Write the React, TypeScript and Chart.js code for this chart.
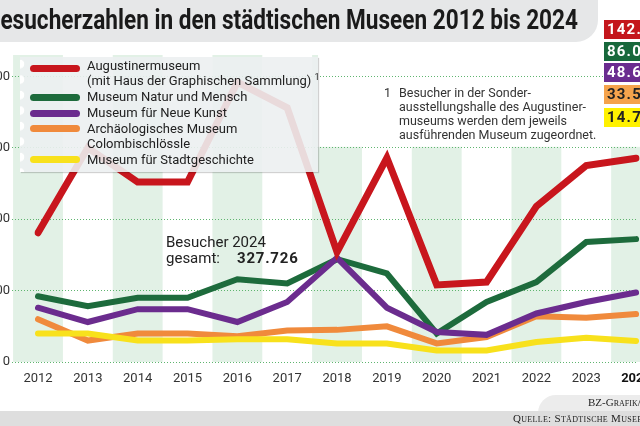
import React, { useEffect, useLayoutEffect, useRef } from "react";
import { Chart, registerables } from "chart.js";

Chart.register(...registerables);

const years = ["2012", "2013", "2014", "2015", "2016", "2017", "2018", "2019", "2020", "2021", "2022", "2023", "2024"];
const augustiner = [90500, 150000, 126000, 126000, 196000, 178000, 77000, 143000, 54000, 56000, 109000, 137500, 142750];
const naturMensch = [46000, 39000, 45000, 45000, 58000, 55000, 72000, 62000, 20000, 42000, 56000, 84000, 86050];
const neueKunst = [38000, 28000, 37000, 37000, 28000, 42000, 73000, 38000, 21000, 19000, 34000, 42000, 48650];
const archaeologie = [30000, 15000, 20000, 20000, 18000, 22000, 22500, 25000, 13000, 17500, 32000, 31000, 33550];
const stadtgeschichte = [20000, 20000, 15000, 15000, 16000, 16000, 13000, 13000, 8000, 8000, 14000, 17000, 14750];
const yTicks = [0, 50000, 100000, 150000, 200000];
const seriesNames = [
  ["Augustinermuseum", "(mit Haus der Graphischen Sammlung)"],
  ["Museum Natur und Mensch"],
  ["Museum für Neue Kunst"],
  ["Archäologisches Museum", "Colombischlössle"],
  ["Museum für Stadtgeschichte"],
];
const totalLabel = "327.726";
const footnoteLines = [
  "Besucher in der Sonder-",
  "ausstellungshalle des Augustiner-",
  "museums werden dem jeweils",
  "ausführenden Museum zugeordnet.",
];

const lineColors = ["#c8161d", "#1d6b3c", "#6b2c8e", "#f08a3c", "#f8e11c"];
const boxColors = ["#c4161c", "#17683b", "#6a2c8f", "#f5a34c", "#fff100"];
const boxText = ["#ffffff", "#ffffff", "#ffffff", "#222222", "#222222"];
const seriesData = [augustiner, naturMensch, neueKunst, archaeologie, stadtgeschichte];

const fmt = (v: number) => String(Math.round(v)).replace(/\B(?=(\d{3})+(?!\d))/g, ".");

const CANVAS_LEFT = -60;

const stripesPlugin = {
  id: "stripes",
  beforeDraw(chart: any) {
    const { ctx, chartArea, scales } = chart;
    const x = scales.x;
    const y = scales.y;
    const step = x.getPixelForValue(1) - x.getPixelForValue(0);
    ctx.save();
    ctx.fillStyle = "#e2f1e6";
    years.forEach((_, i) => {
      if (i % 2 === 0) {
        const cx = x.getPixelForValue(i);
        ctx.fillRect(cx - step / 2, chartArea.top, step, chartArea.bottom - chartArea.top);
      }
    });
    // white panel behind the footnote
    const yb = y.getPixelForValue(150000) - 1;
    ctx.fillStyle = "#ffffff";
    ctx.fillRect(318 - CANVAS_LEFT, chartArea.top, chart.width, yb - chartArea.top);
    ctx.restore();
  },
};

export default function App() {
  const canvasRef = useRef<HTMLCanvasElement | null>(null);
  const titleRef = useRef<HTMLSpanElement | null>(null);

  useLayoutEffect(() => {
    const el = titleRef.current;
    if (el) {
      el.style.transform = "none";
      const w = el.getBoundingClientRect().width;
      el.style.transform = `scaleX(${592 / w})`;
    }
  }, []);

  useEffect(() => {
    if (!canvasRef.current) return;
    const order = [0, 2, 1, 4, 3];
    const chart = new Chart(canvasRef.current, {
      type: "line",
      data: {
        labels: years,
        datasets: seriesData.map((d, i) => ({
          label: seriesNames[i].join(" "),
          data: d,
          borderColor: lineColors[i],
          backgroundColor: lineColors[i],
          borderWidth: i === 0 ? 7 : 6,
          pointRadius: 0,
          tension: 0,
          borderCapStyle: "round",
          borderJoinStyle: "miter",
          fill: false,
          order: order[i],
        })),
      },
      options: {
        animation: false,
        responsive: false,
        maintainAspectRatio: false,
        layout: { padding: { top: 55, right: 16, bottom: 0, left: 0 } },
        plugins: { legend: { display: false }, tooltip: { enabled: false } },
        scales: {
          x: {
            type: "category",
            offset: false,
            grid: { display: false, drawTicks: false },
            border: { display: false },
            afterFit: (s: any) => {
              s.height = 64;
            },
            ticks: {
              padding: 9,
              maxRotation: 0,
              autoSkip: false,
              color: (c: any) => (c.index === years.length - 1 ? "#111" : "#333"),
              font: (c: any) => ({
                family: "Roboto",
                size: 13,
                weight: c.index === years.length - 1 ? "bold" : "normal",
              }),
            },
          },
          y: {
            min: 0,
            max: 215000,
            afterFit: (s: any) => {
              s.width = 98;
            },
            afterBuildTicks: (s: any) => {
              s.ticks = yTicks.map((v) => ({ value: v }));
            },
            grid: {
              color: "#5fb56f",
              lineWidth: 1,
              tickLength: 26,
              tickColor: "#5fb56f",
              tickBorderDash: [1, 2],
            },
            border: { display: false, dash: [1, 2] },
            ticks: {
              padding: 2,
              color: "#333",
              font: { family: "Roboto", size: 13 },
              callback: (v: any) => fmt(Number(v)),
            },
          },
        },
      },
      plugins: [stripesPlugin],
    });
    return () => chart.destroy();
  }, []);

  const legendRows: { text: string; y: number; sup?: boolean }[] = [
    { text: seriesNames[0][0], y: 66 },
    { text: seriesNames[0][1], y: 81, sup: true },
    { text: seriesNames[1][0], y: 97 },
    { text: seriesNames[2][0], y: 113 },
    { text: seriesNames[3][0], y: 129 },
    { text: seriesNames[3][1], y: 144 },
    { text: seriesNames[4][0], y: 160 },
  ];
  const swatchY = [68, 97, 113, 128, 159];
  const boxTops = [20, 42, 63, 85, 108];

  return (
    <div
      style={{
        position: "fixed",
        left: 0,
        top: 0,
        width: 640,
        height: 426,
        overflow: "hidden",
        background: "#ffffff",
        fontFamily: "Roboto, sans-serif",
      }}
    >
      <canvas
        ref={canvasRef}
        width={720}
        height={426}
        style={{ position: "absolute", left: CANVAS_LEFT, top: 0, width: 720, height: 426 }}
      />

      {/* title bar */}
      <div
        style={{
          position: "absolute",
          left: 0,
          top: 0,
          width: 598,
          height: 42,
          background: "#e6e7e8",
          borderBottomRightRadius: 22,
        }}
      />
      <span
        ref={titleRef}
        style={{
          position: "absolute",
          left: -14,
          top: 6,
          fontSize: 28,
          lineHeight: "28px",
          fontWeight: 700,
          color: "#1a1a1a",
          whiteSpace: "nowrap",
          transformOrigin: "0 0",
        }}
      >
        Besucherzahlen in den städtischen Museen 2012 bis 2024
      </span>

      {/* value boxes */}
      {boxTops.map((t, i) => (
        <div
          key={i}
          style={{
            position: "absolute",
            left: 604,
            top: t,
            width: 60,
            height: 19,
            background: boxColors[i],
            color: boxText[i],
            fontWeight: 700,
            fontSize: 15,
            lineHeight: "19px",
            letterSpacing: 1.2,
            paddingLeft: 3,
            boxSizing: "border-box",
            whiteSpace: "nowrap",
          }}
        >
          {fmt(seriesData[i][seriesData[i].length - 1])}
        </div>
      ))}

      {/* legend */}
      <div
        style={{
          position: "absolute",
          left: 20,
          top: 57,
          width: 298,
          height: 115,
          background: "rgba(236,240,241,0.9)",
          boxShadow: "1px 1px 1px rgba(0,0,0,0.18)",
        }}
      />
      <div
        style={{
          position: "absolute",
          left: 20,
          top: 57,
          width: 7,
          height: 115,
          backgroundImage: "radial-gradient(circle at 0px 7px, #ffffff 4px, rgba(255,255,255,0) 4.6px)",
          backgroundSize: "7px 15.5px",
          backgroundRepeat: "repeat-y",
        }}
      />
      {swatchY.map((y, i) => (
        <div
          key={"s" + i}
          style={{
            position: "absolute",
            left: 30,
            top: y - 3.5,
            width: 50,
            height: 7,
            borderRadius: 4,
            background: lineColors[i],
          }}
        />
      ))}
      {legendRows.map((r, i) => (
        <div
          key={"l" + i}
          style={{
            position: "absolute",
            left: 87,
            top: r.y - 8,
            height: 16,
            fontSize: 13,
            lineHeight: "16px",
            color: "#222",
            whiteSpace: "nowrap",
          }}
        >
          {r.text}
          {r.sup ? (
            <span style={{ fontSize: 9, marginLeft: 3, position: "relative", top: -5, lineHeight: "9px" }}>1</span>
          ) : null}
        </div>
      ))}

      {/* footnote */}
      <div
        style={{
          position: "absolute",
          left: 384,
          top: 86,
          fontSize: 12.5,
          lineHeight: "14px",
          color: "#333",
        }}
      >
        1
      </div>
      <div
        style={{
          position: "absolute",
          left: 399,
          top: 86,
          fontSize: 12.5,
          lineHeight: "14px",
          color: "#333",
          whiteSpace: "nowrap",
        }}
      >
        {footnoteLines.map((l, i) => (
          <div key={i}>{l}</div>
        ))}
      </div>

      {/* total */}
      <div
        style={{
          position: "absolute",
          left: 166,
          top: 234,
          fontSize: 15,
          lineHeight: "16px",
          color: "#222",
          whiteSpace: "nowrap",
        }}
      >
        <div>Besucher 2024</div>
        <div>
          gesamt:<span style={{ fontWeight: 700, marginLeft: 17, letterSpacing: 0.8 }}>{totalLabel}</span>
        </div>
      </div>

      {/* footer */}
      <div
        style={{
          position: "absolute",
          left: 538,
          top: 395,
          width: 120,
          height: 20,
          background: "#ececec",
          borderTopLeftRadius: 18,
        }}
      />
      <div
        style={{
          position: "absolute",
          left: 0,
          top: 411,
          width: 640,
          height: 15,
          background: "#dedede",
        }}
      />
      <div
        style={{
          position: "absolute",
          left: 588,
          top: 396,
          fontFamily: "'Liberation Serif', serif",
          fontVariant: "small-caps",
          fontSize: 11,
          lineHeight: "13px",
          color: "#222",
          whiteSpace: "nowrap",
        }}
      >
        BZ-Grafik/dm
      </div>
      <div
        style={{
          position: "absolute",
          left: 513,
          top: 412,
          fontFamily: "'Liberation Serif', serif",
          fontVariant: "small-caps",
          fontSize: 11,
          lineHeight: "13px",
          color: "#222",
          whiteSpace: "nowrap",
          letterSpacing: 0.3,
        }}
      >
        Quelle: Städtische Museen Freiburg
      </div>
    </div>
  );
}
